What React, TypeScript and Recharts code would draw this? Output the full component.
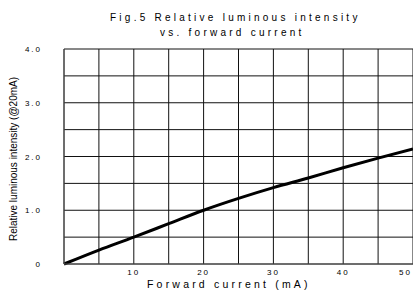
import { LineChart, Line, XAxis, YAxis, CartesianGrid } from 'recharts';

// forward current (mA) vs relative luminous intensity (@20mA)
const current = [0, 5, 10, 15, 20, 25, 30, 35, 40, 45, 50];
const intensity = [0, 0.26, 0.5, 0.75, 1.0, 1.22, 1.42, 1.6, 1.79, 1.97, 2.14];
const xTicks = [0, 5, 10, 15, 20, 25, 30, 35, 40, 45, 50];
const yTicks = [0, 0.5, 1, 1.5, 2, 2.5, 3, 3.5, 4];

const data = current.map((c, i) => ({ current: c, intensity: intensity[i] }));

const font = 'Arial, "Liberation Sans", sans-serif';

const XTick = (props: any) => {
  const { x, y, payload } = props;
  const v = payload.value;
  if (v === 0 || v % 10 !== 0) return null;
  const last = v === 50;
  return (
    <text x={last ? x - 1 : x} y={y + 3} textAnchor={last ? 'end' : 'middle'} fontSize={8} fontFamily={font} letterSpacing={2} fill="#000">
      {v}
    </text>
  );
};

const YTick = (props: any) => {
  const { x, y, payload } = props;
  const v = payload.value;
  if (v % 1 !== 0) return null;
  return (
    <text x={x - 14} y={y + 3} textAnchor="end" fontSize={8} fontFamily={font} letterSpacing={2} fill="#000">
      {v === 0 ? '0' : v.toFixed(1)}
    </text>
  );
};

export default function App() {
  return (
    <div style={{ position: 'fixed', left: 0, top: 0, width: 413, height: 293, background: '#fff', fontFamily: font, overflow: 'hidden' }}>
      <div style={{ position: 'absolute', left: 110, top: 12, fontSize: 10, letterSpacing: 3.25, whiteSpace: 'nowrap', color: '#000' }}>
        Fig.5 Relative luminous intensity
      </div>
      <div style={{ position: 'absolute', left: 160, top: 27, fontSize: 10, letterSpacing: 3.25, whiteSpace: 'nowrap', color: '#000' }}>
        vs. forward current
      </div>
      <div style={{ position: 'absolute', left: 147, top: 278, fontSize: 10.5, letterSpacing: 3.2, whiteSpace: 'nowrap', color: '#000' }}>
        Forward current (mA)
      </div>
      <div style={{ position: 'absolute', left: 13, top: 159, width: 0, height: 0 }}>
        <div style={{ position: 'absolute', left: 0, top: 0, transform: 'translate(-50%, -50%) rotate(-90deg)', whiteSpace: 'nowrap', fontSize: 10, color: '#000' }}>
          Relative luminous intensity (@20mA)
        </div>
      </div>
      <LineChart width={413} height={293} data={data} margin={{ top: 49, right: 0, bottom: 0, left: 0 }} style={{ position: 'absolute', left: 0, top: 0 }}>
        <CartesianGrid stroke="#111" strokeWidth={1} horizontalValues={yTicks} verticalValues={xTicks} />
        <XAxis dataKey="current" type="number" domain={[0, 50]} ticks={xTicks} interval={0} tickLine={false} axisLine={{ stroke: '#555' }} tick={<XTick />} height={29} />
        <YAxis type="number" domain={[0, 4]} ticks={yTicks} interval={0} tickLine={false} axisLine={{ stroke: '#555' }} tick={<YTick />} width={64} />
        <Line type="monotone" dataKey="intensity" stroke="#000" strokeWidth={3} dot={false} isAnimationActive={false} />
      </LineChart>
    </div>
  );
}
